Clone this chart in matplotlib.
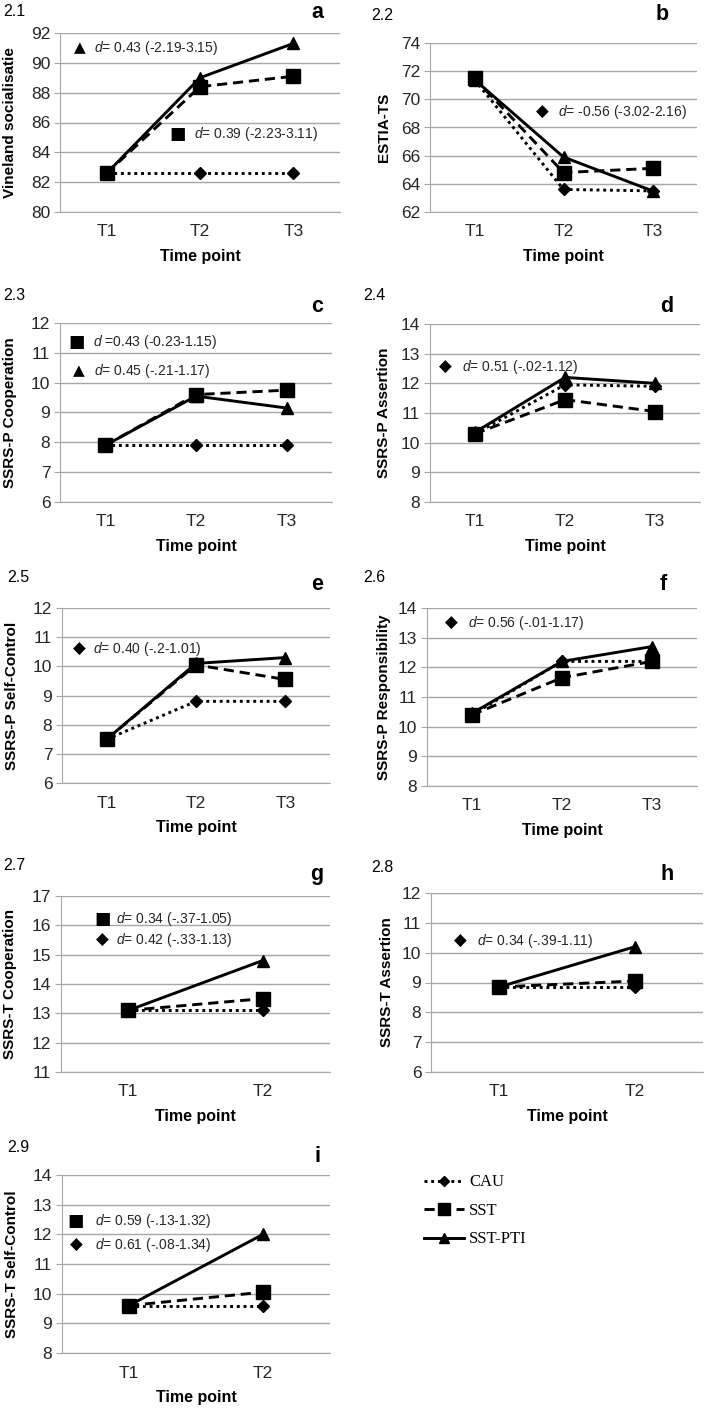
import matplotlib
matplotlib.use("Agg")
import matplotlib.pyplot as plt
from matplotlib.lines import Line2D

plt.rcParams['font.family'] = ['Liberation Sans', 'DejaVu Sans']
plt.rcParams['mathtext.fontset'] = 'custom'
plt.rcParams['mathtext.it'] = 'Liberation Sans:italic'
plt.rcParams['mathtext.rm'] = 'Liberation Sans'

groups = ["CAU", "SST", "SST-PTI"]
times3 = ["T1", "T2", "T3"]
times2 = ["T1", "T2"]

# panel a - Vineland socialisatie
a_cau = [82.6, 82.6, 82.6]
a_sst = [82.6, 88.4, 89.1]
a_pti = [82.6, 89.0, 91.3]
# panel b - ESTIA-TS
b_cau = [71.4, 63.6, 63.5]
b_sst = [71.5, 64.8, 65.1]
b_pti = [71.4, 65.9, 63.5]
# panel c - SSRS-P Cooperation
c_cau = [7.9, 7.9, 7.9]
c_sst = [7.9, 9.6, 9.75]
c_pti = [7.9, 9.55, 9.15]
# panel d - SSRS-P Assertion
d_cau = [10.3, 11.95, 11.9]
d_sst = [10.3, 11.45, 11.05]
d_pti = [10.35, 12.2, 12.0]
# panel e - SSRS-P Self-Control
e_cau = [7.5, 8.8, 8.8]
e_sst = [7.5, 10.05, 9.55]
e_pti = [7.5, 10.1, 10.3]
# panel f - SSRS-P Responsibility
f_cau = [10.4, 12.2, 12.2]
f_sst = [10.4, 11.65, 12.2]
f_pti = [10.45, 12.2, 12.7]
# panel g - SSRS-T Cooperation
g_cau = [13.1, 13.1]
g_sst = [13.1, 13.5]
g_pti = [13.1, 14.8]
# panel h - SSRS-T Assertion
h_cau = [8.85, 8.85]
h_sst = [8.85, 9.05]
h_pti = [8.85, 10.2]
# panel i - SSRS-T Self-Control
i_cau = [9.6, 9.6]
i_sst = [9.6, 10.05]
i_pti = [9.6, 12.0]

W, H = 710, 1410
fig = plt.figure(figsize=(W / 100, H / 100), dpi=100)

grid_c = '#a6a6a6'
styles = {
    "CAU": dict(linestyle=(0, (1, 1.3)), marker='D', markersize=6.5),
    "SST": dict(linestyle=(0, (3.5, 2)), marker='s', markersize=10.5),
    "SST-PTI": dict(linestyle='-', marker='^', markersize=9),
}
glyph = {"tri": "\u25B2", "sq": "\u25A0", "dia": "\u25C6"}
gsize = {"tri": 11, "sq": 12.5, "dia": 12}


def panel(box, times, cau, sst, pti, ylim, ylabel, num, letter, num_xy, letter_xy, notes, ylab_x):
    l, r, t, b = box
    ax = fig.add_axes([l / W, 1 - b / H, (r - l) / W, (b - t) / H])
    x = list(range(len(times)))
    for g, vals in zip(groups, [cau, sst, pti]):
        ax.plot(x, vals, color='black', lw=2.1, label=g, zorder=3, **styles[g])
    ax.set_xlim(-0.5, len(times) - 0.5)
    ax.set_ylim(*ylim)
    step = 2 if ylim[1] - ylim[0] > 8 else 1
    ax.set_yticks(range(ylim[0], ylim[1] + 1, step))
    ax.set_xticks(x)
    ax.set_xticklabels(times)
    ax.grid(axis='y', color=grid_c, lw=1)
    ax.set_axisbelow(True)
    for s in ['top', 'right']:
        ax.spines[s].set_visible(False)
    for s in ['left', 'bottom']:
        ax.spines[s].set_color(grid_c)
    ax.tick_params(axis='y', length=4, color=grid_c, labelsize=12.5, labelcolor='#262626', pad=3)
    ax.tick_params(axis='x', length=0, labelsize=12.5, labelcolor='#262626', pad=9)
    ax.set_xlabel('Time point', fontsize=11.5, fontweight='bold', labelpad=7)
    ax.set_ylabel(ylabel, fontsize=11, fontweight='bold')
    # label x given as the text's centre in pixels; matplotlib anchors its right edge
    ax.yaxis.set_label_coords((ylab_x + 7 - l) / (r - l), 0.5)
    fig.text(num_xy[0] / W, 1 - num_xy[1] / H, num, fontsize=11.5, va='center', ha='left')
    fig.text(letter_xy[0] / W, 1 - letter_xy[1] / H, letter, fontsize=15.5, fontweight='bold',
             va='center', ha='center')
    for kind, mx, tx, y, txt in notes:
        ax.text(mx, y, glyph[kind], transform=ax.get_yaxis_transform(), fontsize=gsize[kind],
                family='DejaVu Sans', ha='center', va='center')
        ax.text(tx, y, r'$\it{d}$' + txt, transform=ax.get_yaxis_transform(), fontsize=10,
                ha='left', va='center', color='#262626')
    return ax


panel((60, 340, 33, 212), times3, a_cau, a_sst, a_pti, (80, 92), 'Vineland socialisatie',
      '2.1', 'a', (3, 12), (317, 13),
      [("tri", 0.07, 0.12, 91.0, "= 0.43 (-2.19-3.15)"),
       ("sq", 0.42, 0.48, 85.2, "= 0.39 (-2.23-3.11)")], 10)
panel((430, 697, 43, 212), times3, b_cau, b_sst, b_pti, (62, 74), 'ESTIA-TS',
      '2.2', 'b', (371, 15), (662, 15),
      [("dia", 0.42, 0.48, 69.1, "= -0.56 (-3.02-2.16)")], 384)
panel((60, 332, 323, 502), times3, c_cau, c_sst, c_pti, (6, 12), 'SSRS-P Cooperation',
      '2.3', 'c', (3, 296), (317, 307),
      [("sq", 0.06, 0.12, 11.35, " =0.43 (-0.23-1.15)"),
       ("tri", 0.07, 0.125, 10.4, "= 0.45 (-.21-1.17)")], 10)
panel((430, 700, 324, 502), times3, d_cau, d_sst, d_pti, (8, 14), 'SSRS-P Assertion',
      '2.4', 'd', (363, 296), (667, 307),
      [("dia", 0.056, 0.12, 12.55, "= 0.51 (-.02-1.12)")], 384)
panel((62, 330, 608, 783), times3, e_cau, e_sst, e_pti, (6, 12), 'SSRS-P Self-Control',
      '2.5', 'e', (7, 578), (317, 585),
      [("dia", 0.063, 0.115, 10.6, "= 0.40 (-.2-1.01)")], 12)
panel((427, 697, 608, 786), times3, f_cau, f_sst, f_pti, (8, 14), 'SSRS-P Responsibility',
      '2.6', 'f', (363, 577), (663, 585),
      [("dia", 0.09, 0.15, 13.5, "= 0.56 (-.01-1.17)")], 384)
panel((61, 330, 896, 1072), times2, g_cau, g_sst, g_pti, (11, 17), 'SSRS-T Cooperation',
      '2.7', 'g', (3, 866), (317, 875),
      [("sq", 0.155, 0.205, 16.2, "= 0.34 (-.37-1.05)"),
       ("dia", 0.155, 0.205, 15.5, "= 0.42 (-.33-1.13)")], 10)
panel((431, 703, 893, 1072), times2, h_cau, h_sst, h_pti, (6, 12), 'SSRS-T Assertion',
      '2.8', 'h', (371, 868), (667, 875),
      [("dia", 0.107, 0.17, 10.4, "= 0.34 (-.39-1.11)")], 387)
panel((62, 330, 1175, 1353), times2, i_cau, i_sst, i_pti, (8, 14), 'SSRS-T Self-Control',
      '2.9', 'i', (7, 1147), (317, 1157),
      [("sq", 0.05, 0.123, 12.45, "= 0.59 (-.13-1.32)"),
       ("dia", 0.052, 0.123, 11.65, "= 0.61 (-.08-1.34)")], 12)

handles = [Line2D([], [], color='black', lw=2.1, **styles[g]) for g in groups]
for h in handles:
    h.set_markersize(h.get_markersize() * 0.85)
fig.legend(handles, groups, loc='upper left', bbox_to_anchor=(416 / W, 1 - 1166 / H),
           frameon=False, prop={'family': 'Liberation Serif', 'size': 12},
           handlelength=2.4, handletextpad=0.3, labelspacing=0.75, borderpad=0)

fig.savefig('out.png', dpi=100, facecolor='white')
plt.close()
